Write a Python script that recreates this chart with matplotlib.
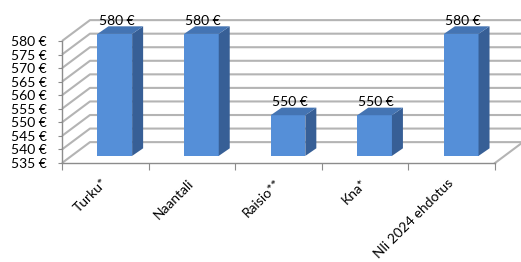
import matplotlib
matplotlib.use("Agg")
from matplotlib import pyplot as plt
from matplotlib.patches import Polygon

cities = ["Turku*", "Naantali", "Raisio**", "Kna*", "Nli 2024 ehdotus"]
fees = [580, 580, 550, 550, 580]
yticks = [535, 540, 545, 550, 555, 560, 565, 570, 575, 580]

plt.rcParams['font.family'] = ['Lato', 'DejaVu Sans']
plt.rcParams['font.size'] = 10

fig = plt.figure(figsize=(5.21, 2.62), dpi=100)
ax = fig.add_axes([62/521, 99/262, 433/521, 122/262])
ax.set_xlim(0, 5)
ax.set_ylim(535, 580)

# depth of the 3d box (in data units)
dx, dy = 0.323, 7.7
grid = '#b4b4b4'
for v in yticks:
    ax.plot([0, dx, 5 + dx], [v, v + dy, v + dy], color=grid, lw=1.5,
            clip_on=False, zorder=1, solid_capstyle='butt')
ax.plot([5, 5 + dx], [535, 535 + dy], color=grid, lw=1.5, clip_on=False, zorder=1)

# bars
f = 0.34
bw = 0.40
bdx, bdy = 0.127, 2.8
front = '#558fd8'
side = '#375f96'
top = '#4474b3'
for i, v in enumerate(fees):
    c = i + 0.5 + f * dx
    x0, x1 = c - bw / 2, c + bw / 2
    y0, y1 = 535 + f * dy, v + f * dy
    ax.add_patch(Polygon([(x0, y0), (x1, y0), (x1, y1), (x0, y1)], closed=True,
                         fc=front, ec='none', clip_on=False, zorder=3))
    ax.add_patch(Polygon([(x1, y0), (x1 + bdx, y0 + bdy), (x1 + bdx, y1 + bdy), (x1, y1)],
                         closed=True, fc=side, ec='none', clip_on=False, zorder=3))
    ax.add_patch(Polygon([(x0, y1), (x1, y1), (x1 + bdx, y1 + bdy), (x0 + bdx, y1 + bdy)],
                         closed=True, fc=top, ec='none', clip_on=False, zorder=3))
    ax.text(c + 0.02, y1 + bdy - 0.3, f"{v} €", ha='center', va='bottom', fontsize=10,
            zorder=4, clip_on=False)

for s in ['top', 'right']:
    ax.spines[s].set_visible(False)
for s in ['left', 'bottom']:
    ax.spines[s].set_color('#8c8c8c')
    ax.spines[s].set_linewidth(1.0)
ax.set_facecolor('none')

ax.set_yticks(yticks)
ax.set_yticklabels([f"{v} €" for v in yticks])
ax.tick_params(axis='y', length=3, color='#8c8c8c', pad=8, labelsize=10)

ax.set_xticks(range(6))
ax.set_xticklabels([])
ax.tick_params(axis='x', which='major', length=5, color='#8c8c8c')
ax.set_xticks([i + 0.5 for i in range(5)], minor=True)
ax.set_xticklabels(cities, minor=True)
ax.tick_params(axis='x', which='minor', length=0, pad=13, labelsize=10)
for lab in ax.get_xticklabels(minor=True):
    lab.set_rotation(45)
    lab.set_ha('right')
    lab.set_va('center')
    lab.set_rotation_mode('anchor')

fig.savefig("out.png", dpi=100)
